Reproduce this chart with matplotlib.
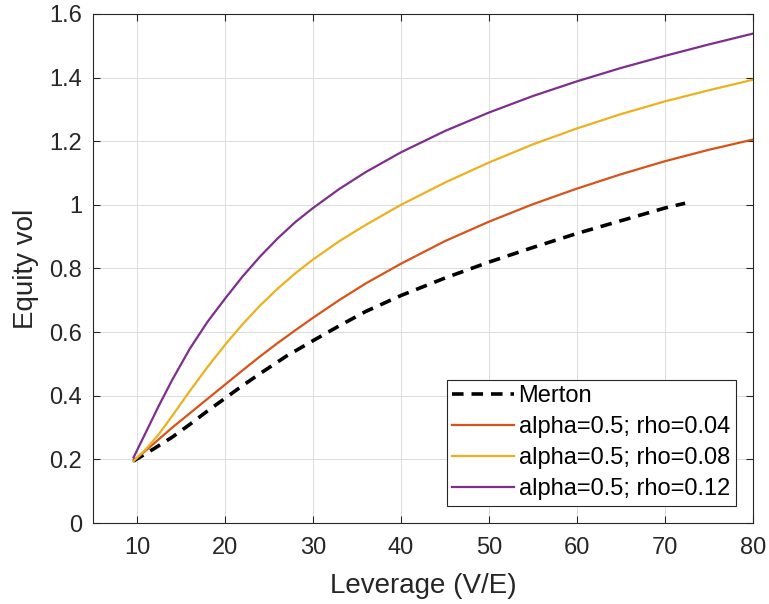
import numpy as np
import matplotlib.pyplot as plt

# leverage grid (V/E) and equity vol
lev = [9.6, 11, 12.5, 14, 16, 18, 20, 22, 24, 26, 28, 30, 33, 36, 40, 45, 50, 55, 60, 65, 70, 75, 80]
vol_rho004 = [0.195, 0.228, 0.264, 0.30, 0.345, 0.39, 0.435, 0.48, 0.524, 0.566, 0.606, 0.645,
              0.701, 0.753, 0.815, 0.886, 0.947, 1.002, 1.051, 1.096, 1.137, 1.173, 1.205]
vol_rho008 = [0.195, 0.232, 0.28, 0.337, 0.415, 0.49, 0.56, 0.625, 0.684, 0.737, 0.785, 0.828,
              0.886, 0.937, 1.0, 1.07, 1.133, 1.19, 1.24, 1.285, 1.325, 1.36, 1.393]
vol_rho012 = [0.206, 0.285, 0.37, 0.45, 0.548, 0.632, 0.705, 0.775, 0.838, 0.895, 0.946, 0.99,
              1.05, 1.103, 1.165, 1.232, 1.29, 1.342, 1.388, 1.43, 1.468, 1.504, 1.538]

lev_merton = [9.6, 12, 14, 16, 18, 20, 22, 24, 27, 30, 33, 36, 40, 45, 50, 55, 60, 65, 70, 72.3]
vol_merton = [0.195, 0.235, 0.27, 0.31, 0.352, 0.392, 0.432, 0.47, 0.525, 0.573, 0.62, 0.665,
              0.715, 0.77, 0.82, 0.866, 0.91, 0.95, 0.99, 1.005]

plt.rcParams['font.family'] = ['Liberation Sans', 'DejaVu Sans']
dark = '#262626'

fig = plt.figure(figsize=(7.69, 6.04), dpi=100)
ax = fig.add_axes([0.121, 0.134, 0.858, 0.843])

ax.plot(lev_merton, vol_merton, '--', color='black', lw=2.6, dashes=(3.2, 2.2), label='Merton')
ax.plot(lev, vol_rho004, color='#D95319', lw=1.6, label='alpha=0.5; rho=0.04')
ax.plot(lev, vol_rho008, color='#EDB120', lw=1.6, label='alpha=0.5; rho=0.08')
ax.plot(lev, vol_rho012, color='#7E2F8E', lw=1.6, label='alpha=0.5; rho=0.12')

ax.set_xlim(5, 80)
ax.set_ylim(0, 1.6)
ax.set_xticks(np.arange(10, 81, 10))
ax.set_yticks(np.arange(0, 1.61, 0.2))
ax.set_yticklabels(['0', '0.2', '0.4', '0.6', '0.8', '1', '1.2', '1.4', '1.6'])

ax.grid(True, color='#dcdcdc', lw=0.7)
ax.set_axisbelow(True)
for s in ax.spines.values():
    s.set_color(dark)
    s.set_linewidth(0.8)
ax.tick_params(direction='in', top=True, right=True, length=5, width=0.8,
               colors=dark, labelsize=17)
ax.tick_params(axis='x', pad=10)
ax.tick_params(axis='y', pad=8)

ax.set_xlabel('Leverage (V/E)', fontsize=20, color=dark, labelpad=10)
ax.set_ylabel('Equity vol', fontsize=20, color=dark, labelpad=7)

leg = ax.legend(loc='lower right', bbox_to_anchor=(0.974, 0.033), borderaxespad=0,
                fontsize=17, handlelength=2.6, fancybox=False, framealpha=1,
                edgecolor=dark, labelspacing=0.38, handletextpad=0.2, borderpad=0.25)
leg.get_frame().set_linewidth(0.8)

fig.savefig('out.png', dpi=100)
